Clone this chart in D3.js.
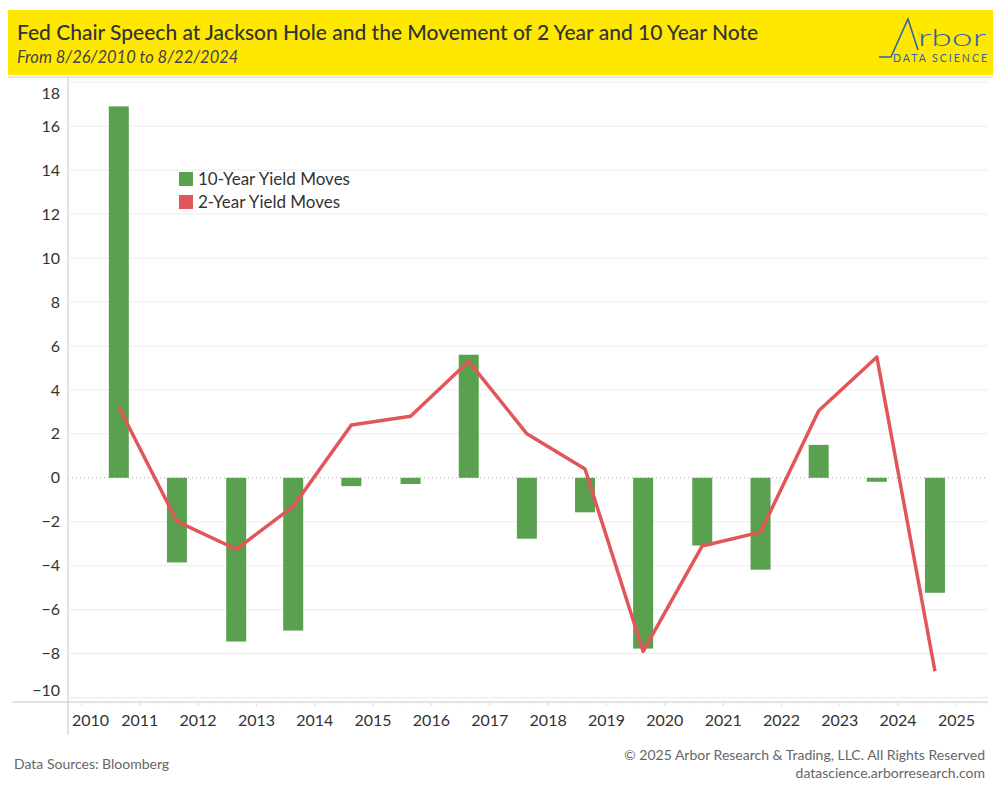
<!DOCTYPE html>
<html>
<head>
<meta charset="utf-8">
<script src="https://cdn.jsdelivr.net/npm/d3@7"></script>
<style>
  body { margin: 0; background: #fff; }
  text { font-family: Lato, "Open Sans", sans-serif; }
</style>
</head>
<body>
<svg width="1000" height="800"></svg>
<script>
// Jackson Hole speech dates
var dates = ["2010-08-26","2011-08-25","2012-08-30","2013-08-22","2014-08-21","2015-08-27","2016-08-25",
             "2017-08-24","2018-08-23","2019-08-22","2020-08-26","2021-08-26","2022-08-25","2023-08-24","2024-08-22"];
// yield moves (bp)
var tenYear = [16.9, -3.85, -7.45, -6.95, -0.38, -0.28, 5.6, -2.77, -1.57, -7.77, -3.08, -4.18, 1.5, -0.18, -5.23];
var twoYear = [3.22, -1.98, -3.25, -1.3, 2.4, 2.8, 5.3, 2.0, 0.4, -7.9, -3.1, -2.47, 3.05, 5.5, -8.8];
var yTicks = [-10, -8, -6, -4, -2, 0, 2, 4, 6, 8, 10, 12, 14, 16, 18];
var seriesNames = ["10-Year Yield Moves", "2-Year Yield Moves"];

var parse = d3.timeParse("%Y-%m-%d");
var data = dates.map(function(d, i) { return {date: parse(d), ten: tenYear[i], two: twoYear[i]}; });

var svg = d3.select("svg");
var green = "#59A14F", red = "#E15759";

var margin = {top: 80, right: 988, bottom: 702, left: 68};

var x = d3.scaleTime()
    .domain([new Date(2009, 9, 12), new Date(2025, 6, 20)])
    .range([margin.left, margin.right]);
var y = d3.scaleLinear().domain([-10.2, 18.1]).range([margin.bottom, margin.top]);

// header
svg.append("rect").attr("x", 8).attr("y", 10).attr("width", 985).attr("height", 65).attr("fill", "#FFE800");
svg.append("text").attr("x", 17).attr("y", 40).attr("font-size", 21).attr("fill", "#333")
   .style("font-weight", 500)
   .text("Fed Chair Speech at Jackson Hole and the Movement of 2 Year and 10 Year Note");
svg.append("text").attr("x", 17).attr("y", 63).attr("font-size", 16.5).attr("fill", "#444")
   .style("font-style", "italic")
   .text("From 8/26/2010 to 8/22/2024");

// logo
svg.append("path").attr("d", "M879,57 L891,57 L908,19 L918,50")
   .attr("fill", "none").attr("stroke", "#2E64A8").attr("stroke-width", 1.6);
svg.append("text").attr("x", 918).attr("y", 46).attr("font-size", 23).attr("fill", "#2E64A8")
   .attr("textLength", 68).attr("lengthAdjust", "spacingAndGlyphs")
   .style("font-weight", 300).text("rbor");
svg.append("text").attr("x", 893).attr("y", 62).attr("font-size", 10.5).attr("fill", "#2E64A8")
   .attr("textLength", 94).text("DATA SCIENCE");

// frame lines
svg.append("line").attr("x1", 8).attr("x2", 993).attr("y1", 77).attr("y2", 77).attr("stroke", "#ccc");
svg.append("line").attr("x1", margin.left).attr("x2", margin.left).attr("y1", 77).attr("y2", 735).attr("stroke", "#c8c8c8");
svg.append("line").attr("x1", 12).attr("x2", margin.right).attr("y1", margin.bottom).attr("y2", margin.bottom).attr("stroke", "#c8c8c8");

// gridlines
svg.append("g").selectAll("line").data(yTicks.filter(function(d) { return d !== 0; })).enter().append("line")
   .attr("x1", margin.left).attr("x2", margin.right)
   .attr("y1", function(d) { return y(d); }).attr("y2", function(d) { return y(d); })
   .attr("stroke", "#ececec");
svg.append("line").attr("x1", margin.left).attr("x2", margin.right).attr("y1", y(0)).attr("y2", y(0))
   .attr("stroke", "#aaa").attr("stroke-dasharray", "1,3");

// y axis
var yAxis = svg.append("g").attr("transform", "translate(" + margin.left + ",0)")
   .call(d3.axisLeft(y).tickValues(yTicks).tickSize(0).tickPadding(8));
yAxis.select(".domain").remove();
yAxis.selectAll("text").attr("font-size", 16).attr("fill", "#333")
   .attr("dy", function(d) { return d === 18 ? "1.0em" : d === -10 ? "-0.15em" : "0.32em"; });

// x axis
var xAxis = svg.append("g").attr("transform", "translate(0," + margin.bottom + ")")
   .call(d3.axisBottom(x).ticks(d3.timeYear.every(1)).tickFormat(d3.timeFormat("%Y")).tickSize(4).tickPadding(9));
xAxis.select(".domain").remove();
xAxis.selectAll("line").attr("stroke", "#ddd");
xAxis.selectAll("text").attr("font-size", 16).attr("fill", "#333")
   .attr("dx", function(d) { return x(d) < margin.left + 20 ? 9 : 0; });
svg.append("g").attr("transform", "translate(0," + margin.bottom + ")")
   .call(d3.axisBottom(x).ticks(d3.timeMonth.every(3)).tickFormat("").tickSize(3))
   .call(function(g) { g.select(".domain").remove(); g.selectAll("line").attr("stroke", "#e4e4e4"); });

// bars
var bw = 20;
svg.append("g").selectAll("rect").data(data).enter().append("rect")
   .attr("x", function(d) { return x(d.date) - bw / 2; })
   .attr("width", bw)
   .attr("y", function(d) { return y(Math.max(0, d.ten)); })
   .attr("height", function(d) { return Math.abs(y(d.ten) - y(0)); })
   .attr("fill", green);

// line
var line = d3.line().x(function(d) { return x(d.date); }).y(function(d) { return y(d.two); });
svg.append("path").datum(data).attr("d", line)
   .attr("fill", "none").attr("stroke", red).attr("stroke-width", 3.5).attr("stroke-linejoin", "round");

// legend
var legend = svg.append("g").attr("transform", "translate(179,172)");
legend.selectAll("rect").data(seriesNames).enter().append("rect")
   .attr("x", 0).attr("y", function(d, i) { return i * 23; })
   .attr("width", 14).attr("height", 14)
   .attr("fill", function(d, i) { return i === 0 ? green : red; });
legend.selectAll("text").data(seriesNames).enter().append("text")
   .attr("x", 19).attr("y", function(d, i) { return i * 23 + 13; })
   .attr("font-size", 17).attr("fill", "#333")
   .text(function(d) { return d; });

// footer
svg.append("text").attr("x", 14).attr("y", 769).attr("font-size", 14).attr("fill", "#666").text("Data Sources: Bloomberg");
svg.append("text").attr("x", 985).attr("y", 760).attr("text-anchor", "end").attr("font-size", 14).attr("fill", "#666")
   .text("© 2025 Arbor Research & Trading, LLC. All Rights Reserved");
svg.append("text").attr("x", 985).attr("y", 778).attr("text-anchor", "end").attr("font-size", 14).attr("fill", "#666")
   .text("datascience.arborresearch.com");
</script>
</body>
</html>
